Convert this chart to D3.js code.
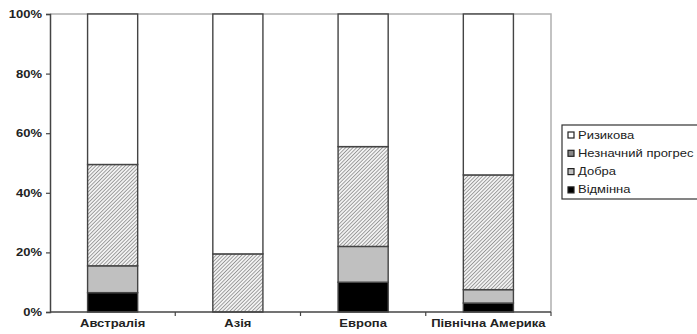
<!DOCTYPE html>
<html>
<head>
<meta charset="utf-8">
<script src="https://cdn.jsdelivr.net/npm/d3@7"></script>
<style>
  html, body { margin: 0; padding: 0; background: #fff; }
  svg { display: block; }
  text { font-family: "Liberation Sans", Arial, sans-serif; fill: #222; }
</style>
</head>
<body>
<svg id="chart" width="697" height="334"></svg>
<script>
// Regions and the share (%) of each status group
const categories = ["Австралія", "Азія", "Европа", "Північна Америка"];
const excellent = [6.5, 0, 10, 3];        // Відмінна
const good      = [9, 0, 12, 4.5];        // Добра
const minor     = [34, 19.5, 33.5, 38.5]; // Незначний прогрес
const risky     = [50.5, 80.5, 44.5, 54]; // Ризикова
const yTicks = [0, 20, 40, 60, 80, 100];

const seriesNames = ["Відмінна", "Добра", "Незначний прогрес", "Ризикова"];
const seriesValues = [excellent, good, minor, risky];

const rows = categories.map((c, i) => {
  const r = { category: c };
  seriesNames.forEach((s, k) => { r[s] = seriesValues[k][i]; });
  return r;
});
const stacked = d3.stack().keys(seriesNames)(rows);

const svg = d3.select("#chart");
const plotLeft = 50, plotRight = 551, plotTop = 14, plotBottom = 312;
const stretch = 1.3; // wide lettering

const x = d3.scaleBand().domain(categories).range([plotLeft, plotRight])
  .paddingInner(0.6).paddingOuter(0.3);
const y = d3.scaleLinear().domain([0, 100]).range([plotBottom, plotTop]);

// diagonal hatch used by "Незначний прогрес"
const defs = svg.append("defs");
const pat = defs.append("pattern").attr("id", "hatch")
  .attr("patternUnits", "userSpaceOnUse").attr("width", 2.6).attr("height", 2.6)
  .attr("patternTransform", "rotate(45)");
pat.append("rect").attr("width", 2.6).attr("height", 2.6).attr("fill", "#f2f2f2");
pat.append("line").attr("x1", 0).attr("y1", 0).attr("x2", 0).attr("y2", 2.6)
  .attr("stroke", "#777").attr("stroke-width", 1.3);

const fills = {
  "Відмінна": "#000",
  "Добра": "#c0c0c0",
  "Незначний прогрес": "url(#hatch)",
  "Ризикова": "#fff"
};

// plot frame (light top and right edges)
svg.append("path")
  .attr("d", `M${plotLeft},${plotTop}H${plotRight}V${plotBottom}`)
  .attr("fill", "none").attr("stroke", "#b0b0b0").attr("stroke-width", 1.5);

// stacked bars
svg.append("g").selectAll("g").data(stacked).join("g")
  .attr("fill", d => fills[d.key])
  .selectAll("rect").data(d => d.filter(p => p[1] > p[0])).join("rect")
  .attr("x", d => x(d.data.category))
  .attr("y", d => y(d[1]))
  .attr("width", x.bandwidth())
  .attr("height", d => y(d[0]) - y(d[1]))
  .attr("stroke", "#444").attr("stroke-width", 1.4);

// y axis
const yAxis = svg.append("g").attr("transform", `translate(${plotLeft},0)`)
  .call(d3.axisLeft(y).tickValues(yTicks).tickFormat(d => d + "%").tickSize(4).tickPadding(0));
yAxis.select(".domain").attr("stroke", "#444").attr("stroke-width", 1.5);
yAxis.selectAll(".tick line").attr("stroke", "#444").attr("stroke-width", 1.2);
yAxis.selectAll(".tick text").remove();
yAxis.selectAll(".tick").append("text")
  .attr("transform", `translate(-8,3.5) scale(${stretch},1)`)
  .attr("text-anchor", "end")
  .style("font-size", "10px").style("font-weight", "bold")
  .text(d => d + "%");

// x axis with ticks on category boundaries
const xAxisG = svg.append("g").attr("transform", `translate(0,${plotBottom})`);
xAxisG.append("line").attr("x1", plotLeft).attr("x2", plotRight)
  .attr("stroke", "#444").attr("stroke-width", 1.5);
const step = x.step();
const boundaries = d3.range(1, categories.length + 1).map(i => plotLeft + i * step);
xAxisG.selectAll("line.tk").data(boundaries).join("line").attr("class", "tk")
  .attr("x1", d => d).attr("x2", d => d).attr("y1", 0).attr("y2", 4)
  .attr("stroke", "#444").attr("stroke-width", 1.2);
xAxisG.selectAll("text").data(categories).join("text")
  .attr("transform", d => `translate(${x(d) + x.bandwidth() / 2},15) scale(${stretch},1)`)
  .attr("text-anchor", "middle")
  .style("font-size", "10px").style("font-weight", "bold")
  .text(d => d);

// legend
const legend = svg.append("g");
legend.append("rect").attr("x", 562).attr("y", 125).attr("width", 160).attr("height", 74)
  .attr("fill", "#fff").attr("stroke", "#333").attr("stroke-width", 1.2);
const legendOrder = seriesNames.slice().reverse();
const li = legend.selectAll("g.item").data(legendOrder).join("g").attr("class", "item")
  .attr("transform", (d, i) => `translate(568,${135 + i * 18.3})`);
li.append("rect").attr("x", 0).attr("y", -3).attr("width", 6).attr("height", 6)
  .attr("fill", d => d === "Незначний прогрес" ? "#888" : fills[d])
  .attr("stroke", "#222").attr("stroke-width", 1.2);
li.append("text")
  .attr("transform", `translate(10,3.5) scale(${stretch},1)`)
  .style("font-size", "10px")
  .text(d => d);
</script>
</body>
</html>
